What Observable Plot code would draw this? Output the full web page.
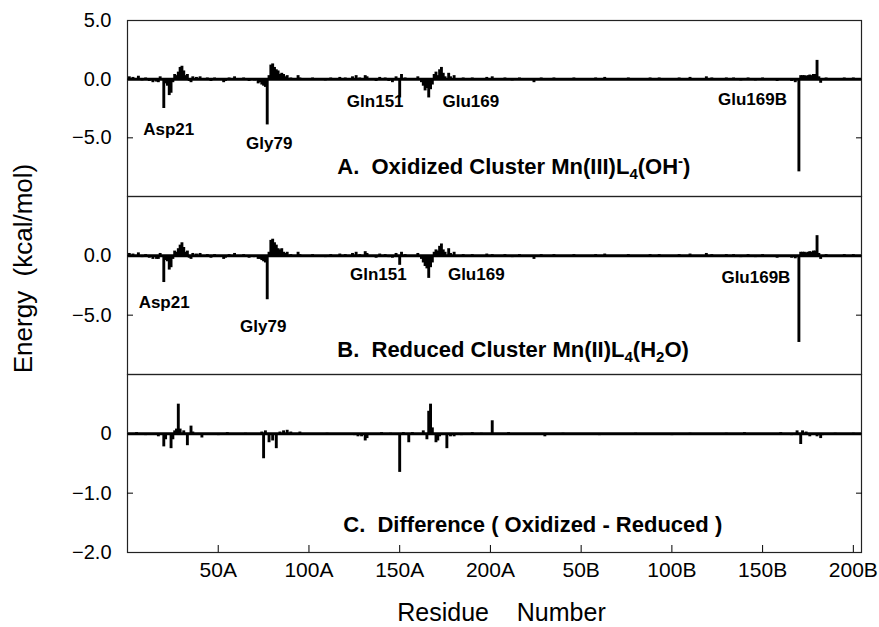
<!DOCTYPE html>
<html><head><meta charset="utf-8">
<script src="https://cdn.jsdelivr.net/npm/d3@7"></script>
<script src="https://cdn.jsdelivr.net/npm/@observablehq/plot@0.6"></script>
<style>
body{margin:0;background:#fff;}
#chart{width:879px;height:627px;position:relative;}
svg text{white-space:pre;}
</style></head><body><div id="chart"></div>
<script>
// x axis ticks (residue index, chain A then chain B)
const tickValues = [50,100,150,200,250,300,350,400];
const tickLabels = ["50A","100A","150A","200A","50B","100B","150B","200B"];

// Panel A: oxidized cluster, [residue index, energy kcal/mol]
const energyA = [
[1,0.2],[3,0.15],[6,0.25],[8,-0.15],[10,0.1],[12,-0.2],[14,-0.3],[16,-0.25],[17,-0.3],[18,0.2],[20,-2.5],[21,-0.4],[22,-0.6],[23,-1.4],[24,-1.2],[25,-0.3],[26,0.4],[27,0.3],[28,0.6],[29,1.0],[30,1.1],[31,0.7],[32,0.3],[33,0.4],[34,-0.2],[35,-0.3],[36,0.2],[38,0.15],[40,0.2],[41,-0.1],[44,0.1],[46,-0.2],[48,0.1],[50,-0.1],[53,-0.3],[54,-0.2],[56,0.1],[59,0.2],[62,-0.1],[64,0.1],[67,-0.2],[70,-0.15],[72,-0.4],[73,-0.3],[74,-0.5],[75,-0.6],[76,-0.7],[77,-3.9],[78,0.3],[79,1.2],[80,1.3],[81,1.0],[82,0.8],[83,0.7],[84,0.4],[85,0.5],[86,0.4],[87,0.2],[88,0.3],[90,0.1],[94,0.3],[95,0.1],[98,-0.1],[102,0.1],[105,-0.1],[109,-0.15],[112,0.1],[117,0.15],[120,0.1],[124,0.2],[126,0.3],[128,0.1],[131,0.3],[132,0.2],[134,-0.1],[137,-0.2],[139,0.15],[142,0.1],[144,-0.2],[146,-0.3],[148,0.2],[150,-1.6],[151,0.4],[153,0.1],[156,-0.1],[160,0.2],[162,-0.3],[163,-0.6],[164,-1.0],[165,-0.8],[166,-1.6],[167,-0.9],[168,-0.5],[169,0.4],[170,0.6],[171,0.3],[172,0.8],[173,1.0],[174,0.5],[175,0.2],[177,0.5],[178,0.2],[180,0.3],[182,-0.1],[185,0.1],[187,-0.1],[190,0.1],[194,-0.1],[198,0.15],[201,0.2],[204,-0.1],[208,0.1],[212,-0.15],[216,0.1],[220,-0.1],[224,-0.3],[228,0.1],[231,-0.1],[235,0.1],[240,-0.1],[246,0.1],[252,-0.1],[258,0.1],[263,0.15],[270,-0.1],[276,0.1],[282,-0.1],[288,0.1],[293,0.1],[298,-0.1],[304,0.1],[310,0.15],[314,-0.1],[319,0.2],[322,0.1],[326,-0.1],[330,0.1],[334,0.1],[338,-0.15],[342,0.1],[346,-0.15],[350,0.1],[354,-0.1],[358,-0.2],[362,-0.1],[366,-0.2],[368,-0.3],[370,-7.9],[371,0.3],[372,0.3],[373,0.3],[374,0.25],[375,0.3],[376,0.35],[377,0.3],[378,0.4],[379,0.4],[380,1.6],[381,0.2],[382,-0.35],[385,0.1],[390,-0.1],[395,0.1],[400,0.1],[403,-0.1]
];

// Panel B: reduced cluster
const energyB = [
[1,0.2],[3,0.15],[6,0.25],[8,-0.15],[10,0.1],[12,-0.2],[14,-0.3],[16,-0.3],[17,-0.3],[18,0.2],[20,-2.25],[21,-0.4],[22,-0.5],[23,-1.2],[24,-1.0],[25,-0.3],[26,0.4],[27,0.3],[28,0.6],[29,0.9],[30,1.1],[31,0.7],[32,0.3],[33,0.4],[34,-0.2],[35,-0.3],[36,0.2],[38,0.15],[40,0.2],[41,-0.1],[44,0.1],[46,-0.2],[48,0.1],[50,-0.1],[53,-0.3],[54,-0.2],[56,0.1],[59,0.2],[62,-0.1],[64,0.1],[67,-0.2],[70,-0.15],[72,-0.3],[73,-0.3],[74,-0.4],[75,-0.5],[76,-0.6],[77,-3.7],[78,0.3],[79,1.3],[80,1.4],[81,1.1],[82,0.9],[83,0.6],[84,0.5],[85,0.6],[86,0.3],[87,0.2],[88,0.3],[90,0.1],[94,0.3],[95,0.1],[98,-0.1],[102,0.1],[105,-0.1],[109,-0.15],[112,0.1],[117,0.15],[120,0.1],[124,0.2],[126,0.3],[128,0.1],[131,0.35],[132,0.2],[134,-0.1],[137,-0.2],[139,0.15],[142,0.1],[144,-0.15],[146,-0.2],[148,0.2],[150,-0.8],[151,0.3],[153,0.1],[156,-0.1],[160,0.2],[162,-0.3],[163,-0.6],[164,-0.9],[165,-1.1],[166,-1.9],[167,-1.0],[168,-0.6],[169,0.3],[170,0.5],[171,0.4],[172,0.8],[173,1.0],[174,0.5],[175,0.3],[177,0.6],[178,0.2],[180,0.3],[182,-0.1],[185,0.1],[187,-0.1],[190,0.1],[194,-0.1],[198,0.15],[201,0.1],[204,-0.1],[208,0.1],[212,-0.15],[216,0.1],[220,-0.1],[224,-0.3],[228,0.1],[231,-0.1],[235,0.1],[240,-0.1],[246,0.1],[252,-0.1],[258,0.1],[263,0.15],[270,-0.1],[276,0.1],[282,-0.1],[288,0.1],[293,0.1],[298,-0.1],[304,0.1],[310,0.15],[314,-0.1],[319,0.2],[322,0.1],[326,-0.1],[330,0.1],[334,0.1],[338,-0.15],[342,0.1],[346,-0.15],[350,0.1],[354,-0.1],[358,-0.2],[362,-0.1],[366,-0.2],[368,-0.25],[370,-7.3],[371,0.3],[372,0.3],[373,0.3],[374,0.25],[375,0.3],[376,0.35],[377,0.3],[378,0.4],[379,0.4],[380,1.7],[381,0.2],[382,-0.3],[385,0.1],[390,-0.1],[395,0.1],[400,0.1],[403,-0.1]
];

// Panel C: difference (oxidized - reduced)
const energyC = [
[2,-0.02],[5,0.02],[10,-0.03],[14,-0.02],[17,-0.05],[20,-0.22],[21,-0.1],[24,-0.25],[25,-0.1],[26,0.05],[27,0.08],[28,0.5],[29,0.08],[31,0.05],[33,-0.2],[35,0.13],[36,0.03],[41,-0.07],[45,-0.02],[50,-0.03],[55,0.02],[60,-0.02],[65,0.01],[70,-0.02],[74,0.03],[75,-0.42],[76,0.05],[78,-0.15],[80,-0.12],[82,-0.25],[84,0.03],[86,0.05],[88,0.06],[90,0.03],[95,0.03],[100,-0.02],[110,0.01],[120,-0.02],[125,-0.03],[127,-0.05],[129,-0.05],[131,-0.12],[132,-0.08],[135,-0.02],[140,0.02],[145,0.01],[150,-0.65],[152,0.02],[155,-0.15],[157,0.02],[160,-0.02],[163,0.05],[165,-0.1],[166,0.38],[167,0.5],[168,0.1],[170,-0.15],[171,-0.12],[172,-0.05],[176,-0.25],[178,-0.05],[180,-0.05],[184,-0.03],[190,0.02],[195,0.01],[201,0.22],[210,0.02],[220,-0.02],[230,-0.05],[240,0.01],[250,-0.02],[260,-0.03],[270,-0.02],[280,0.01],[290,-0.02],[300,-0.03],[310,0.01],[320,-0.02],[330,0.01],[340,0.02],[350,-0.02],[360,0.02],[366,-0.03],[369,0.05],[371,-0.18],[372,0.05],[374,0.03],[376,-0.05],[380,-0.05],[382,-0.08],[383,-0.03],[390,0.01],[400,0.01]
];

// annotations
const notesA = [
  {t:"Asp21", r:22.7, v:-4.3}, {t:"Gly79", r:78.1, v:-5.45},
  {t:"Gln151", r:136.5, v:-1.95}, {t:"Glu169", r:189.2, v:-1.95}, {t:"Glu169B", r:344.4, v:-1.75}
];
const notesB = [
  {t:"Asp21", r:20.2, v:-3.9}, {t:"Gly79", r:74.8, v:-5.95},
  {t:"Gln151", r:138.2, v:-1.6}, {t:"Glu169", r:192.2, v:-1.6}, {t:"Glu169B", r:346.3, v:-1.8}
];
// panel titles as [text, shift] runs: 0 normal, -1 subscript, 1 superscript
const titleA = [["A.  Oxidized Cluster Mn(III)L", 0], ["4", -1], ["(OH", 0], ["-", 1], [")", 0]];
const titleB = [["B.  Reduced Cluster Mn(II)L", 0], ["4", -1], ["(H", 0], ["2", -1], ["O)", 0]];
const titleC = [["C.  Difference ( Oxidized - Reduced )", 0]];
const yTitle = "Energy  (kcal/mol)";
const xTitle = "Residue    Number";

const FONT = "'Liberation Sans', Arial, Helvetica, sans-serif";
const fmt1 = d => d === 0 ? "0.0" : (d < 0 ? "\u2212" : "") + Math.abs(d).toFixed(1);
const fmtC = d => d === 0 ? "0" : (d < 0 ? "\u2212" : "") + Math.abs(d).toFixed(1);
const plain = runs => runs.map(r => r[0]).join("");

function richify(svg, runs) {
  const s = plain(runs);
  svg.querySelectorAll("text").forEach(t => {
    if (t.textContent !== s) return;
    t.textContent = "";
    let prev = 0;
    for (const [str, shift] of runs) {
      const ts = document.createElementNS("http://www.w3.org/2000/svg", "tspan");
      const off = shift === -1 ? 5 : shift === 1 ? -8 : 0;
      const dy = off - prev;
      if (dy !== 0) ts.setAttribute("dy", dy);
      if (shift !== 0) ts.setAttribute("font-size", "15");
      ts.textContent = str;
      t.appendChild(ts);
      prev = off;
    }
  });
  return svg;
}

function panel({data, domain, height, marginTop, marginBottom, labelTicks, innerTicks, fmt, notes, title, titlePos, extra = [], xAxis = false}) {
  const rows = data.map(([r, v]) => ({r, v}));
  const svg = Plot.plot({
    width: 879, height, marginLeft: 127, marginRight: 18, marginTop, marginBottom,
    style: {fontFamily: FONT, overflow: "visible", background: "transparent", color: "#000"},
    x: {domain: [0, 404.5], label: null, ...(xAxis ? {} : {axis: null})},
    y: {domain, label: null},
    marks: [
      Plot.ruleY([0], {strokeWidth: 3}),
      Plot.ruleX(rows, {x: "r", y1: 0, y2: "v", strokeWidth: 2.9}),
      Plot.frame({stroke: "#222", strokeWidth: 1.2}),
      Plot.axisY(labelTicks, {anchor: "left", tickSize: 0, tickPadding: 16, fontSize: 20, tickFormat: fmt, label: null}),
      Plot.axisY(innerTicks, {anchor: "left", tickSize: 6, dx: 6, tickFormat: () => "", label: null}),
      Plot.axisY(innerTicks, {anchor: "right", tickSize: 6, dx: -6, tickFormat: () => "", label: null}),
      Plot.text(notes, {x: "r", y: "v", text: "t", fontSize: 17, fontWeight: "bold", textAnchor: "middle", lineAnchor: "middle"}),
      Plot.text([plain(title)], {x: titlePos[0], y: titlePos[1], fontSize: 22, fontWeight: "bold", textAnchor: "start", lineAnchor: "middle"}),
      ...extra
    ]
  });
  return richify(svg, title);
}

const chart = document.getElementById("chart");
chart.append(panel({
  data: energyA, domain: [-10, 5], height: 196, marginTop: 20, marginBottom: 0,
  labelTicks: [5, 0, -5], innerTicks: [0, -5], fmt: fmt1, notes: notesA, title: titleA, titlePos: [115.6, -7.44]
}));
chart.append(panel({
  data: energyB, domain: [-10, 5], height: 178, marginTop: 0, marginBottom: 0,
  labelTicks: [0, -5], innerTicks: [0, -5], fmt: fmt1, notes: notesB, title: titleB, titlePos: [115.6, -7.9],
  extra: [Plot.text([yTitle], {frameAnchor: "left", dx: -104, dy: -17, rotate: -90, fontSize: 26, textAnchor: "middle", lineAnchor: "middle"})]
}));
chart.append(panel({
  data: energyC, domain: [-2, 1], height: 253, marginTop: 0, marginBottom: 75, xAxis: true,
  labelTicks: [0, -1, -2], innerTicks: [0, -1], fmt: fmtC, notes: [], title: titleC, titlePos: [118.9, -1.54],
  extra: [
    Plot.axisX(tickValues, {anchor: "bottom", tickSize: 0, tickPadding: 10, fontSize: 21, tickFormat: d => tickLabels[tickValues.indexOf(d)], label: null}),
    Plot.axisX(tickValues, {anchor: "bottom", tickSize: 7, dy: -7, tickFormat: () => "", label: null}),
    Plot.text([xTitle], {frameAnchor: "bottom", dx: 7, dy: 60, fontSize: 25, textAnchor: "middle", lineAnchor: "middle"})
  ]
}));
</script></body></html>
